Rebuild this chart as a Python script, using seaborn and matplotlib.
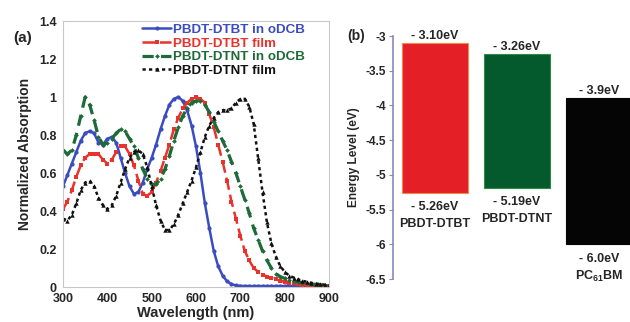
import matplotlib
matplotlib.use("Agg")
import matplotlib.pyplot as plt
import seaborn as sns
import pandas as pd
import numpy as np

# ---------------- data ----------------
wavelength = list(range(300, 910, 10))

dtbt_solution = [0.53, 0.59, 0.65, 0.71, 0.77, 0.81, 0.82, 0.81, 0.76, 0.75,
                 0.78, 0.79, 0.76, 0.68, 0.60, 0.53, 0.49, 0.50, 0.55, 0.62,
                 0.68, 0.75, 0.83, 0.90, 0.96, 0.99, 1.00, 0.98, 0.93, 0.85,
                 0.74, 0.60, 0.44, 0.31, 0.19, 0.11, 0.06, 0.03, 0.015, 0.008,
                 0.006, 0.005, 0.005, 0.005, 0.005, 0.005, 0.005, 0.005, 0.005, 0.005,
                 0.005, 0.005, 0.005, 0.005, 0.005, 0.005, 0.005, 0.005, 0.005, 0.005,
                 0.005]
dtbt_film = [0.41, 0.45, 0.51, 0.58, 0.64, 0.68, 0.70, 0.70, 0.70, 0.67,
             0.65, 0.67, 0.71, 0.74, 0.74, 0.70, 0.64, 0.56, 0.49, 0.48,
             0.50, 0.55, 0.61, 0.68, 0.75, 0.83, 0.89, 0.94, 0.97, 0.99,
             1.00, 0.99, 0.97, 0.91, 0.84, 0.75, 0.66, 0.56, 0.45, 0.36,
             0.27, 0.19, 0.14, 0.10, 0.08, 0.065, 0.055, 0.048, 0.040, 0.033,
             0.027, 0.022, 0.019, 0.016, 0.013, 0.011, 0.009, 0.008, 0.007, 0.006,
             0.005]
dtnt_solution = [0.72, 0.70, 0.72, 0.80, 0.90, 1.00, 0.96, 0.88, 0.79, 0.75,
                 0.76, 0.78, 0.81, 0.83, 0.82, 0.78, 0.74, 0.68, 0.62, 0.57,
                 0.54, 0.54, 0.57, 0.62, 0.69, 0.77, 0.84, 0.90, 0.94, 0.97,
                 0.98, 0.98, 0.96, 0.92, 0.87, 0.82, 0.77, 0.72, 0.66, 0.60,
                 0.53, 0.46, 0.39, 0.31, 0.25, 0.19, 0.14, 0.10, 0.07, 0.055,
                 0.045, 0.038, 0.032, 0.027, 0.023, 0.019, 0.016, 0.014, 0.012, 0.011,
                 0.010]
dtnt_film = [0.36, 0.35, 0.38, 0.44, 0.51, 0.55, 0.56, 0.53, 0.47, 0.43,
             0.41, 0.43, 0.48, 0.55, 0.62, 0.68, 0.71, 0.72, 0.70, 0.63,
             0.53, 0.43, 0.35, 0.30, 0.30, 0.33, 0.38, 0.44, 0.50, 0.56,
             0.63, 0.71, 0.79, 0.85, 0.89, 0.92, 0.93, 0.93, 0.94, 0.97,
             0.99, 0.99, 0.95, 0.86, 0.68, 0.50, 0.34, 0.23, 0.16, 0.11,
             0.08, 0.06, 0.05, 0.04, 0.033, 0.027, 0.022, 0.018, 0.015, 0.012,
             0.010]

series_names = ["PBDT-DTBT in oDCB", "PBDT-DTBT film",
                "PBDT-DTNT in oDCB", "PBDT-DTNT film"]

materials = ["PBDT-DTBT", "PBDT-DTNT", "PC$_{61}$BM"]
lumo = [-3.10, -3.26, -3.9]
homo = [-5.26, -5.19, -6.0]
lumo_labels = ["- 3.10eV", "- 3.26eV", "- 3.9eV"]
homo_labels = ["- 5.26eV", "- 5.19eV", "- 6.0eV"]

x_ticks = [300, 400, 500, 600, 700, 800, 900]
y_ticks = [0, 0.2, 0.4, 0.6, 0.8, 1, 1.2, 1.4]
y_tick_labels = ["0", "0.2", "0.4", "0.6", "0.8", "1", "1.2", "1.4"]
e_ticks = [-3, -3.5, -4, -4.5, -5, -5.5, -6, -6.5]
e_tick_labels = ["-3", "-3.5", "-4", "-4.5", "-5", "-5.5", "-6", "-6.5"]

# ---------------- style ----------------
sns.set_theme(style="white")
plt.rcParams["font.family"] = ["Liberation Sans", "DejaVu Sans"]
plt.rcParams["font.weight"] = "bold"
plt.rcParams["axes.labelweight"] = "bold"
plt.rcParams["mathtext.fontset"] = "custom"
plt.rcParams["mathtext.rm"] = "Liberation Sans:bold"
plt.rcParams["mathtext.it"] = "Liberation Sans:bold"
plt.rcParams["mathtext.bf"] = "Liberation Sans:bold"

colors = ["#3a4cc0", "#e8322b", "#1e6a38", "#111111"]
styles = [dict(ls="-", marker="o", ms=3.0, lw=1.8),
          dict(ls=(0, (5, 2)), marker="s", ms=3.1, lw=1.8),
          dict(ls=(0, (3.5, 2.3)), marker="D", ms=2.4, lw=2.3),
          dict(ls=(0, (1.3, 1.3)), marker="^", ms=3.2, lw=1.8)]

fig = plt.figure(figsize=(6.3, 3.22), dpi=100)
ax1 = fig.add_axes([63 / 630, 1 - 287 / 322, 266 / 630, 266 / 322])
ax2 = fig.add_axes([393 / 630, 1 - 279 / 322, 237 / 630, 243 / 322])

# ---------------- panel (a) ----------------
df = pd.DataFrame({"Wavelength": wavelength * 4,
                   "Absorption": dtbt_solution + dtbt_film + dtnt_solution + dtnt_film,
                   "Series": sum([[n] * len(wavelength) for n in series_names], [])})
for name, col, st in zip(series_names, colors, styles):
    sub = df[df["Series"] == name]
    sns.lineplot(data=sub, x="Wavelength", y="Absorption", ax=ax1, color=col,
                 linestyle=st["ls"], marker=st["marker"], markersize=st["ms"],
                 linewidth=st["lw"], markeredgewidth=0, markerfacecolor=col,
                 label=name)

ax1.set_xlim(300, 900)
ax1.set_ylim(0, 1.4)
ax1.set_xticks(x_ticks)
ax1.set_yticks(y_ticks)
ax1.set_yticklabels(y_tick_labels)
ax1.tick_params(axis="both", labelsize=9, length=2.5, width=0.6,
                color="#999999")
ax1.tick_params(axis="x", direction="in", length=2, pad=4)
ax1.tick_params(axis="y", direction="out", pad=2)
for lab in ax1.get_xticklabels() + ax1.get_yticklabels():
    lab.set_fontweight("bold")
for sp in ax1.spines.values():
    sp.set_color("#c8c8c8")
    sp.set_linewidth(0.8)
ax1.set_xlabel("Wavelength (nm)", fontsize=10.5, fontweight="bold", labelpad=1)
ax1.set_ylabel("Normalized Absorption", fontsize=10, fontweight="bold", labelpad=5)

leg = ax1.legend(loc="upper left", bbox_to_anchor=(0.297, 0.99), frameon=False,
                 handlelength=2.2, handletextpad=0.15,
                 labelspacing=0.1, borderaxespad=0, borderpad=0,
                 labelcolor="linecolor", prop={"weight": "bold", "size": 9.6})

fig.text(13 / 630, 1 - 38 / 322, "(a)", fontsize=11, fontweight="bold",
         va="center", ha="left")

# ---------------- panel (b) ----------------
bar_colors = ["#e41f26", "#045a2c", "#050505"]
edge_colors = ["#f08a4b", "#2f8a4a", "#050505"]
positions = np.arange(len(materials))
heights = [l - h for l, h in zip(lumo, homo)]
ax2.bar(positions, heights, bottom=homo, width=0.81, color=bar_colors,
        edgecolor=edge_colors, linewidth=0.8)

ax2.set_xlim(-0.51, 2.38)
ax2.set_ylim(-6.5, -3)
ax2.set_yticks(e_ticks)
ax2.set_yticklabels(e_tick_labels)
ax2.set_xticks([])
for s in ["top", "right", "bottom"]:
    ax2.spines[s].set_visible(False)
ax2.spines["left"].set_color("#8a88bd")
ax2.spines["left"].set_linewidth(1.2)
ax2.tick_params(axis="y", direction="out", length=3, width=0.8,
                color="#8a88bd", labelsize=8.6, pad=2, left=True)
for lab in ax2.get_yticklabels():
    lab.set_fontweight("bold")
ax2.set_ylabel("Energy Level (eV)", fontsize=8.6, fontweight="bold", labelpad=4)

for i, (lt, ht, name, lv, hv) in enumerate(zip(lumo_labels, homo_labels,
                                               materials, lumo, homo)):
    ax2.annotate(lt, (positions[i], lv), xytext=(0, 1), textcoords="offset points",
                 ha="center", va="bottom", fontsize=9, fontweight="bold",
                 annotation_clip=False)
    ax2.annotate(ht, (positions[i], hv), xytext=(0, -6), textcoords="offset points",
                 ha="center", va="top", fontsize=9, fontweight="bold",
                 annotation_clip=False)
    ax2.annotate(name, (positions[i], hv), xytext=(0, -18), textcoords="offset points",
                 ha="center", va="top", fontsize=9, fontweight="bold",
                 annotation_clip=False)

fig.text(347 / 630, 1 - 36 / 322, "(b)", fontsize=10, fontweight="bold",
         va="center", ha="left")

fig.savefig("out.png", dpi=100)
